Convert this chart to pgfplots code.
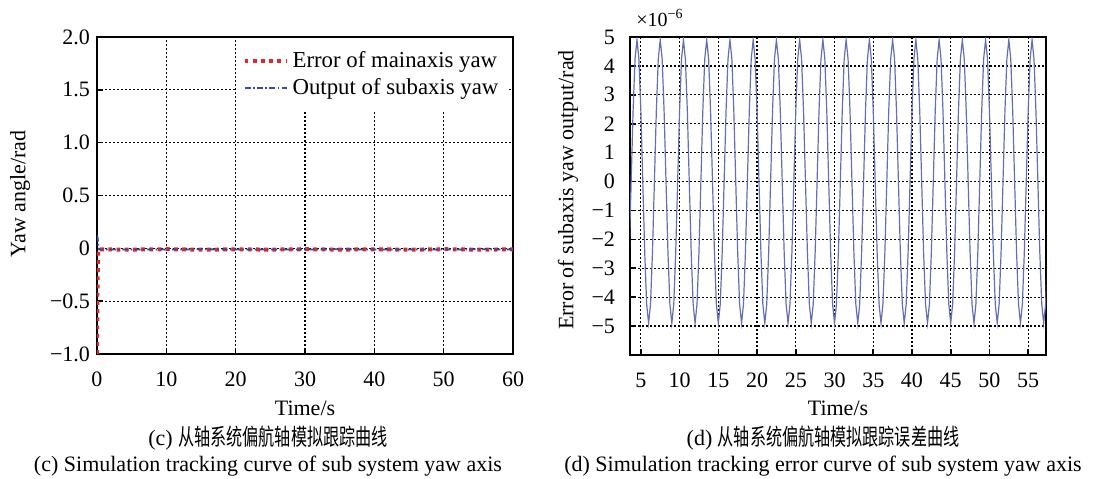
\documentclass[border=0pt]{standalone}
\usepackage{fontspec}
\setmainfont{Liberation Serif}
\newfontfamily\cjk{Noto Sans CJK SC}
\usepackage{graphicx}
\usepackage{pgfplots}
\pgfplotsset{compat=1.18}

\definecolor{errred}{RGB}{228,40,40}
\definecolor{outblue}{RGB}{55,75,165}
\definecolor{sinblue}{RGB}{100,110,180}

\newcommand{\lbl}{\fontsize{11}{13}\selectfont}
\newcommand{\cjkcap}[1]{\scalebox{0.7}[1]{\cjk\fontsize{11.5}{13}\selectfont #1}}

\begin{document}
\begin{tikzpicture}
\path[use as bounding box] (0pt,0pt) rectangle (547pt,-239pt);

\pgfplotsset{
  panel/.style={
    scale only axis,
    axis line style={line width=0.8pt},
    tick align=inside,
    xtick pos=bottom, ytick pos=left,
    major tick length=3pt,
    tick style={line width=0.8pt, black},
    grid=major,
    major grid style={black, line width=0.6pt, dash pattern=on 0.9pt off 1.1pt},
    tick label style={font=\lbl},
    xticklabel style={yshift=-5.5pt},
    /pgf/number format/assume math mode=true,
  }
}

% (c) tracking curve of the yaw axis
\begin{axis}[panel, at={(48.5pt,-177pt)}, anchor=south west,
  width=208pt, height=158.5pt,
  xmin=0, xmax=60, ymin=-1, ymax=2,
  xtick={0,10,20,30,40,50,60},
  ytick={-1,-0.5,0,0.5,1,1.5,2},
  yticklabels={−1.0,−0.5,0,0.5,1.0,1.5,2.0},
  legend style={at={(rel axis cs:0.99,0.996)}, anchor=north east,
    draw=none, fill=white, inner xsep=3pt, inner ysep=4.5pt,
    font=\fontsize{11.4}{13}\selectfont, row sep=0pt},
  legend cell align=left,
  legend image code/.code={\draw[#1] (0pt,0pt) -- (21pt,0pt);},
]
\addplot[errred, line width=2pt, dash pattern=on 1.9pt off 2.2pt]
  coordinates {(0,-1.0) (0.08,-0.35) (0.18,-0.01) (5,-0.012) (10,-0.008) (15,-0.013)
    (20,-0.009) (25,-0.012) (30,-0.008) (35,-0.012) (40,-0.009) (45,-0.013)
    (50,-0.008) (55,-0.012) (60,-0.010)};
\addlegendentry{Error of mainaxis yaw}
\addplot[outblue, line width=0.9pt, dash pattern=on 3pt off 1.2pt on 0.8pt off 1.2pt]
  coordinates {(0,0.12) (0.1,0.10) (0.2,0.02) (0.3,-0.01) (5,-0.01) (10,-0.012)
    (15,-0.009) (20,-0.011) (25,-0.010) (30,-0.012) (35,-0.009) (40,-0.011)
    (45,-0.010) (50,-0.012) (55,-0.009) (60,-0.011)};
\addlegendentry{Output of subaxis yaw}
\end{axis}

% (d) tracking error of the yaw axis, in units of 1e-6 rad
\begin{axis}[panel, at={(315pt,-177.5pt)}, anchor=south west,
  width=208pt, height=159pt,
  xmin=3.6, xmax=57.3, ymin=-6, ymax=5,
  xtick={5,10,15,20,25,30,35,40,45,50,55},
  ytick={-5,-4,-3,-2,-1,0,1,2,3,4,5},
  yticklabels={−5,−4,−3,−2,−1,0,1,2,3,4,5},
  yticklabel style={xshift=-4pt},
]
\addplot[sinblue, line width=0.6pt] coordinates {
(3.5,-2.45) (3.75,0) (4,2.45) (4.25,4.24) (4.5,4.9) (4.75,4.24) (5,2.45) (5.25,0) (5.5,-2.45) (5.75,-4.24)
(6,-4.9) (6.25,-4.24) (6.5,-2.45) (6.75,0) (7,2.45) (7.25,4.24) (7.5,4.9) (7.75,4.24) (8,2.45) (8.25,0) (8.5,-2.45) (8.75,-4.24)
(9,-4.9) (9.25,-4.24) (9.5,-2.45) (9.75,0) (10,2.45) (10.25,4.24) (10.5,4.9) (10.75,4.24) (11,2.45) (11.25,0) (11.5,-2.45) (11.75,-4.24)
(12,-4.9) (12.25,-4.24) (12.5,-2.45) (12.75,0) (13,2.45) (13.25,4.24) (13.5,4.9) (13.75,4.24) (14,2.45) (14.25,0) (14.5,-2.45) (14.75,-4.24)
(15,-4.9) (15.25,-4.24) (15.5,-2.45) (15.75,0) (16,2.45) (16.25,4.24) (16.5,4.9) (16.75,4.24) (17,2.45) (17.25,0) (17.5,-2.45) (17.75,-4.24)
(18,-4.9) (18.25,-4.24) (18.5,-2.45) (18.75,0) (19,2.45) (19.25,4.24) (19.5,4.9) (19.75,4.24) (20,2.45) (20.25,0) (20.5,-2.45) (20.75,-4.24)
(21,-4.9) (21.25,-4.24) (21.5,-2.45) (21.75,0) (22,2.45) (22.25,4.24) (22.5,4.9) (22.75,4.24) (23,2.45) (23.25,0) (23.5,-2.45) (23.75,-4.24)
(24,-4.9) (24.25,-4.24) (24.5,-2.45) (24.75,0) (25,2.45) (25.25,4.24) (25.5,4.9) (25.75,4.24) (26,2.45) (26.25,0) (26.5,-2.45) (26.75,-4.24)
(27,-4.9) (27.25,-4.24) (27.5,-2.45) (27.75,0) (28,2.45) (28.25,4.24) (28.5,4.9) (28.75,4.24) (29,2.45) (29.25,0) (29.5,-2.45) (29.75,-4.24)
(30,-4.9) (30.25,-4.24) (30.5,-2.45) (30.75,0) (31,2.45) (31.25,4.24) (31.5,4.9) (31.75,4.24) (32,2.45) (32.25,0) (32.5,-2.45) (32.75,-4.24)
(33,-4.9) (33.25,-4.24) (33.5,-2.45) (33.75,0) (34,2.45) (34.25,4.24) (34.5,4.9) (34.75,4.24) (35,2.45) (35.25,0) (35.5,-2.45) (35.75,-4.24)
(36,-4.9) (36.25,-4.24) (36.5,-2.45) (36.75,0) (37,2.45) (37.25,4.24) (37.5,4.9) (37.75,4.24) (38,2.45) (38.25,0) (38.5,-2.45) (38.75,-4.24)
(39,-4.9) (39.25,-4.24) (39.5,-2.45) (39.75,0) (40,2.45) (40.25,4.24) (40.5,4.9) (40.75,4.24) (41,2.45) (41.25,0) (41.5,-2.45) (41.75,-4.24)
(42,-4.9) (42.25,-4.24) (42.5,-2.45) (42.75,0) (43,2.45) (43.25,4.24) (43.5,4.9) (43.75,4.24) (44,2.45) (44.25,0) (44.5,-2.45) (44.75,-4.24)
(45,-4.9) (45.25,-4.24) (45.5,-2.45) (45.75,0) (46,2.45) (46.25,4.24) (46.5,4.9) (46.75,4.24) (47,2.45) (47.25,0) (47.5,-2.45) (47.75,-4.24)
(48,-4.9) (48.25,-4.24) (48.5,-2.45) (48.75,0) (49,2.45) (49.25,4.24) (49.5,4.9) (49.75,4.24) (50,2.45) (50.25,0) (50.5,-2.45) (50.75,-4.24)
(51,-4.9) (51.25,-4.24) (51.5,-2.45) (51.75,0) (52,2.45) (52.25,4.24) (52.5,4.9) (52.75,4.24) (53,2.45) (53.25,0) (53.5,-2.45) (53.75,-4.24)
(54,-4.9) (54.25,-4.24) (54.5,-2.45) (54.75,0) (55,2.45) (55.25,4.24) (55.5,4.9) (55.75,4.24) (56,2.45) (56.25,0) (56.5,-2.45) (56.75,-4.24)
(57,-4.9) (57.25,-4.24) (57.5,-2.45)
};
\end{axis}

% scale factor of the right-hand axis
\node[font=\fontsize{10}{12}\selectfont] at (330pt,-9pt) {×10\textsuperscript{−6}};

% axis titles
\node[rotate=90, font=\lbl] at (10pt,-97pt) {Yaw angle/rad};
\node[rotate=90, font=\lbl] at (284pt,-95pt) {Error of subaxis yaw output/rad};
\node[font=\lbl] at (152.5pt,-204pt) {Time/s};
\node[font=\lbl] at (419pt,-204pt) {Time/s};

% sub-figure captions
\node[font=\lbl] at (134pt,-219pt) {(c) \cjkcap{从轴系统偏航轴模拟跟踪曲线}};
\node[font=\lbl] at (134pt,-233pt) {(c) Simulation tracking curve of sub system yaw axis};
\node[font=\lbl] at (411.5pt,-219pt) {(d) \cjkcap{从轴系统偏航轴模拟跟踪误差曲线}};
\node[font=\lbl] at (411.5pt,-233pt) {(d) Simulation tracking error curve of sub system yaw axis};
\end{tikzpicture}
\end{document}
